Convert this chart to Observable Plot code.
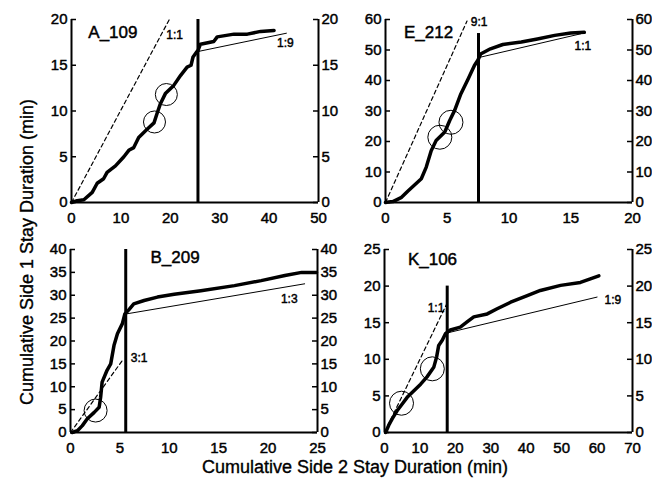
<!DOCTYPE html>
<html><head><meta charset="utf-8">
<script src="https://cdn.jsdelivr.net/npm/d3@7"></script>
<script src="https://cdn.jsdelivr.net/npm/@observablehq/plot@0.6"></script>
<style>
body{margin:0;background:#fff;}
#chart{position:relative;width:652px;height:483px;overflow:hidden;font-family:"Liberation Sans",Arial,Helvetica,sans-serif;color:#000;}
#chart svg{position:absolute;overflow:visible;}
#chart svg text{stroke:#000;stroke-width:0.45px;}
.xtitle{position:absolute;left:355px;top:458px;transform:translateX(-50%);font-size:18px;line-height:18px;white-space:nowrap;-webkit-text-stroke:0.35px #000;}
.ytitle{position:absolute;left:27px;top:252px;transform:translate(-50%,-50%) rotate(-90deg);font-size:18px;line-height:18px;white-space:nowrap;-webkit-text-stroke:0.35px #000;}
</style></head><body>
<div id="chart"></div>
<script>
// ---- data ----
const panelNames = ["A_109", "E_212", "B_209", "K_106"];
const xMax = [50, 20, 25, 70];
const yMax = [20, 60, 40, 25];
const xTicksA = [0, 10, 20, 30, 40, 50];
const xTicksE = [0, 5, 10, 15, 20];
const xTicksB = [0, 5, 10, 15, 20, 25];
const xTicksK = [0, 10, 20, 30, 40, 50, 60, 70];
const yTicksA = [0, 5, 10, 15, 20];
const yTicksE = [0, 10, 20, 30, 40, 50, 60];
const yTicksB = [0, 5, 10, 15, 20, 25, 30, 35, 40];
const yTicksK = [0, 5, 10, 15, 20, 25];

// cumulative curves (side 2 x, side 1 y)
const curveAX = [0, 1.15, 2.5, 4.2, 5.2, 6.5, 7.2, 8.9, 10.6, 11.6, 12.6, 13.6, 15.3, 16.7, 17.3, 18.0, 19.0, 20.7, 22.1, 23.4, 24.2, 24.6, 25.4, 25.6, 26.1, 28.8, 29.5, 32.9, 35.6, 38.3, 41.0];
const curveAY = [0, 0.2, 0.3, 1.1, 2.1, 2.6, 3.3, 4.0, 5.0, 5.7, 6.0, 7.1, 8.0, 8.7, 9.7, 10.8, 11.9, 12.8, 13.9, 14.8, 15.0, 15.9, 16.5, 16.6, 17.3, 17.6, 18.1, 18.4, 18.4, 18.7, 18.8];
const curveEX = [0, 0.1, 0.6, 1.3, 1.8, 2.9, 3.3, 3.7, 4.1, 4.8, 5.2, 5.6, 6.1, 6.7, 7.2, 7.5, 7.7, 8.5, 9.5, 11.0, 12.3, 13.7, 15.0, 16.1];
const curveEY = [0, 0.1, 0.3, 1.7, 3.7, 7.8, 11.6, 17.0, 20.3, 23.1, 26.9, 30.2, 35.6, 40.6, 44.9, 46.8, 48.7, 50.4, 51.8, 52.6, 53.6, 54.8, 55.6, 55.8];
const curveBX = [0.17, 0.7, 1.2, 1.7, 2.4, 2.9, 3.05, 3.2, 3.7, 4.07, 4.4, 4.75, 5.25, 5.5, 5.9, 6.4, 7.45, 8.8, 10.5, 13.2, 16.6, 19.3, 21.7, 23.4, 24.9];
const curveBY = [0, 0.4, 1.5, 3.0, 4.4, 5.5, 7.7, 11.0, 13.6, 15.0, 19.0, 21.6, 23.8, 25.9, 26.8, 28.1, 28.85, 29.6, 30.2, 31.0, 32.1, 33.2, 34.3, 35.0, 35.0];
const curveKX = [0.3, 1.2, 2.2, 3.6, 5.0, 6.4, 8.3, 10.2, 12.0, 13.9, 14.7, 15.3, 16.3, 17.2, 18.6, 21.4, 23.3, 25.2, 29.0, 31.8, 35.6, 40.3, 44.0, 49.7, 55.3, 60.5];
const curveKY = [0, 1.0, 1.9, 3.0, 3.9, 4.8, 5.7, 6.6, 7.6, 8.9, 10.3, 11.9, 12.6, 13.5, 14.0, 14.4, 15.1, 15.8, 16.2, 16.9, 17.8, 18.7, 19.4, 20.1, 20.5, 21.4];

// switch time (vertical bar) and its top
const switchX = [25.6, 7.53, 5.59, 17.7];
const switchTop = [20, 55.4, 40, 20];
// first-phase ratio (dashed) line end
const dashEndX = [19.8, 6.6, 5.25, 17.5];
const dashEndY = [20, 59.5, 15.75, 17.5];
const dashLabel = ["1:1", "9:1", "3:1", "1:1"];
const dashLabelX = [19.2, 6.9, 6.1, 16.9];
const dashLabelY = [18.25, 59.0, 16.2, 17.0];
// second-phase ratio (thin) line
const thinStartY = [16.5, 47.5, 25.9, 13.6];
const thinEndX = [43.5, 15.8, 23.7, 60.0];
const thinEndY = [18.5, 55.3, 32.5, 18.5];
const thinLabel = ["1:9", "1:1", "1:3", "1:9"];
const thinLabelX = [41.6, 15.3, 21.3, 62.1];
const thinLabelY = [17.4, 51.2, 29.2, 18.1];
// panel name position
const nameX = [3.4, 1.5, 8.1, 6.6];
const nameY = [18.6, 55.7, 38.3, 23.6];
// circled events
const circlesAX = [19.2, 16.8], circlesAY = [11.8, 8.8];
const circlesEX = [4.4, 5.3], circlesEY = [21.4, 26.3];
const circlesBX = [2.54], circlesBY = [4.8];
const circlesKX = [4.8, 13.5], circlesKY = [4.0, 8.7];

// ---- layout ----
const zip = (a, b) => a.map((v, i) => [v, b[i]]);
const panels = [
  {xt: xTicksA, yt: yTicksA, cx: curveAX, cy: curveAY, ox: circlesAX, oy: circlesAY, left: 0, top: 0, width: 350, ml: 71, mr: 32, r: 11, dashAnchor: "start"},
  {xt: xTicksE, yt: yTicksE, cx: curveEX, cy: curveEY, ox: circlesEX, oy: circlesEY, left: 320, top: 0, width: 332, ml: 65, mr: 20, r: 12, dashAnchor: "start"},
  {xt: xTicksB, yt: yTicksB, cx: curveBX, cy: curveBY, ox: circlesBX, oy: circlesBY, left: 0, top: 230, width: 350, ml: 70, mr: 33, r: 11.5, dashAnchor: "start"},
  {xt: xTicksK, yt: yTicksK, cx: curveKX, cy: curveKY, ox: circlesKX, oy: circlesKY, left: 320, top: 230, width: 332, ml: 64, mr: 20, r: 12, dashAnchor: "end"}
];
const chart = document.getElementById("chart");
const font = '"Liberation Sans", Arial, Helvetica, sans-serif';
const tickPx = 5;

panels.forEach((p, i) => {
  const plotW = p.width - p.ml - p.mr;
  const tk = xMax[i] * tickPx / plotW; // inward tick length in x units
  const svg = Plot.plot({
    width: p.width, height: 230,
    marginLeft: p.ml, marginRight: p.mr, marginTop: 19, marginBottom: 28,
    x: {domain: [0, xMax[i]]},
    y: {domain: [0, yMax[i]]},
    style: {background: "transparent", fontFamily: font, fontSize: "15px", color: "#000", overflow: "visible"},
    marks: [
      Plot.ruleX([0, xMax[i]], {stroke: "#000", strokeWidth: 2}),
      Plot.ruleY([0], {stroke: "#000", strokeWidth: 2}),
      // inward ticks on both y axes
      Plot.ruleY(p.yt, {y: d => d, x1: 0, x2: tk, stroke: "#000", strokeWidth: 1.5}),
      Plot.ruleY(p.yt, {y: d => d, x1: xMax[i] - tk, x2: xMax[i], stroke: "#000", strokeWidth: 1.5}),
      Plot.axisY({anchor: "left", ticks: p.yt, tickSize: 0, tickPadding: 4, label: null, fontSize: 15}),
      Plot.axisY({anchor: "right", ticks: p.yt, tickSize: 0, tickPadding: 3, label: null, fontSize: 15}),
      Plot.axisX({anchor: "bottom", ticks: p.xt, tickSize: 0, tickPadding: 10, label: null, fontSize: 15}),
      Plot.line([[0, 0], [dashEndX[i], dashEndY[i]]], {stroke: "#000", strokeWidth: 1.2, strokeDasharray: "4,3"}),
      Plot.line([[switchX[i], thinStartY[i]], [thinEndX[i], thinEndY[i]]], {stroke: "#000", strokeWidth: 1}),
      Plot.ruleX([switchX[i]], {y1: 0, y2: switchTop[i], stroke: "#000", strokeWidth: 3}),
      Plot.line(zip(p.cx, p.cy), {stroke: "#000", strokeWidth: 3.5, strokeLinejoin: "round", strokeLinecap: "round"}),
      Plot.dot(zip(p.ox, p.oy), {x: d => d[0], y: d => d[1], r: p.r, stroke: "#000", fill: "none", strokeWidth: 1}),
      Plot.text([dashLabel[i]], {x: dashLabelX[i], y: dashLabelY[i], text: d => d, textAnchor: p.dashAnchor, fontSize: 12, fill: "#000"}),
      Plot.text([thinLabel[i]], {x: thinLabelX[i], y: thinLabelY[i], text: d => d, textAnchor: "start", fontSize: 12, fill: "#000"}),
      Plot.text([panelNames[i]], {x: nameX[i], y: nameY[i], text: d => d, textAnchor: "start", fontSize: 17, fill: "#000"})
    ]
  });
  svg.style.left = p.left + "px";
  svg.style.top = p.top + "px";
  chart.appendChild(svg);
});

const xt = document.createElement("div");
xt.className = "xtitle";
xt.textContent = "Cumulative Side 2 Stay Duration (min)";
chart.appendChild(xt);
const yt = document.createElement("div");
yt.className = "ytitle";
yt.textContent = "Cumulative Side 1 Stay Duration (min)";
chart.appendChild(yt);
</script>
</body></html>
